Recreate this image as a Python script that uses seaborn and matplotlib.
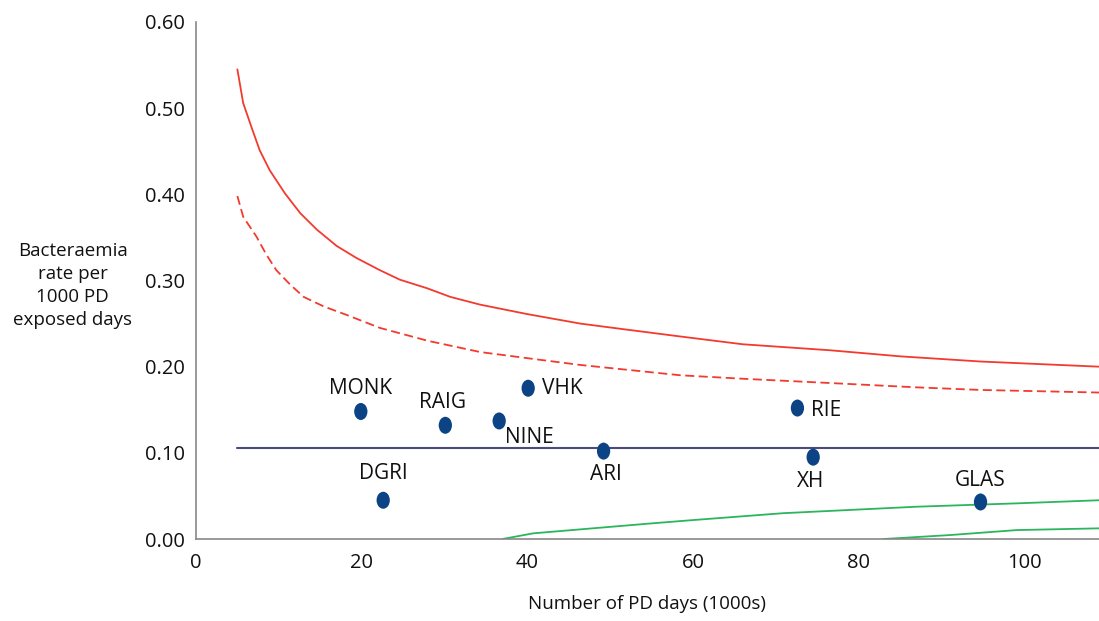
import matplotlib
matplotlib.use("Agg")
import matplotlib.pyplot as plt
import seaborn as sns
import pandas as pd
from matplotlib.path import Path
from matplotlib.transforms import Affine2D

# units (PD days in 1000s) and bacteraemia rate per 1000 PD exposed days
units = ["MONK", "DGRI", "RAIG", "NINE", "VHK", "ARI", "RIE", "XH", "GLAS"]
pd_days = [19.9, 22.6, 30.1, 36.6, 40.1, 49.2, 72.6, 74.5, 94.7]
rates = [0.148, 0.045, 0.132, 0.137, 0.175, 0.102, 0.152, 0.095, 0.043]

mean_rate = 0.106
mean_x = [5, 109]

# control limits
upper998_x = [5, 5.7, 6.7, 7.7, 8.9, 10.75, 12.6, 14.6, 17.0, 19.4, 22.2, 24.6, 27.9,
              30.7, 34.3, 40, 46.4, 52, 58.5, 66, 76.6, 85, 94.7, 109]
upper998_y = [0.545, 0.506, 0.478, 0.451, 0.428, 0.401, 0.378, 0.359, 0.340, 0.326,
              0.312, 0.301, 0.291, 0.281, 0.272, 0.261, 0.250, 0.243, 0.235, 0.226,
              0.219, 0.212, 0.206, 0.200]
upper95_x = [5, 5.7, 7.3, 8.5, 9.7, 11.4, 13.0, 15.4, 18.2, 22.2, 28, 34.3, 40.7,
             46.4, 58.5, 66, 76.6, 87, 94.7, 109]
upper95_y = [0.398, 0.374, 0.351, 0.330, 0.312, 0.295, 0.281, 0.270, 0.260, 0.245,
             0.230, 0.217, 0.209, 0.202, 0.190, 0.186, 0.181, 0.176, 0.173, 0.170]
lower95_x = [37.0, 40.7, 54.8, 60, 70.9, 87.0, 99.1, 109]
lower95_y = [0.0, 0.0066, 0.018, 0.022, 0.030, 0.0375, 0.0414, 0.045]
lower998_x = [83, 91, 99.1, 109]
lower998_y = [0.0, 0.0046, 0.0104, 0.0124]

# label placement: (dx, dy in points, ha, va)
label_pos = {
    "MONK": (0, 9, "center", "bottom"),
    "DGRI": (0, 12, "center", "bottom"),
    "RAIG": (-2, 9, "center", "bottom"),
    "NINE": (4, -4, "left", "top"),
    "VHK": (10, 0, "left", "center"),
    "ARI": (2, -9, "center", "top"),
    "RIE": (10, -2, "left", "center"),
    "XH": (-2, -10, "center", "top"),
    "GLAS": (0, 8, "center", "bottom"),
}

sns.set_theme(style="white")
plt.rcParams["font.family"] = ["Open Sans", "DejaVu Sans"]

fig = plt.figure(figsize=(10.99, 6.21), dpi=100)
ax = fig.add_axes([0.1783, 0.132, 0.8217, 0.8326])

red = "#f23a2e"
green = "#2bb55c"

sns.lineplot(x=upper998_x, y=upper998_y, ax=ax, color=red, linewidth=1.3)
sns.lineplot(x=upper95_x, y=upper95_y, ax=ax, color=red, linewidth=1.3)
ax.lines[-1].set_dashes((5, 2.5))
sns.lineplot(x=lower95_x, y=lower95_y, ax=ax, color=green, linewidth=1.3)
sns.lineplot(x=lower998_x, y=lower998_y, ax=ax, color=green, linewidth=1.3)
sns.lineplot(x=mean_x, y=[mean_rate] * len(mean_x), ax=ax, color="#4a4a85", linewidth=1.5)

ellipse = Path.unit_circle().transformed(Affine2D().scale(0.78, 1.0))
df = pd.DataFrame({"unit": units, "x": pd_days, "y": rates})
sns.scatterplot(data=df, x="x", y="y", ax=ax, marker=ellipse, s=150,
                color="#0b4384", edgecolor="none", zorder=5)

for name, xv, yv in zip(units, pd_days, rates):
    dx, dy, ha, va = label_pos[name]
    ax.annotate(name, (xv, yv), xytext=(dx, dy), textcoords="offset points",
                ha=ha, va=va, fontsize=15, color="#111111")

ax.set_xlim(0, 109)
ax.set_ylim(0, 0.6)
ax.set_xticks([0, 20, 40, 60, 80, 100])
ax.set_yticks([0, 0.1, 0.2, 0.3, 0.4, 0.5, 0.6])
ax.set_yticklabels([f"{v:.2f}" for v in [0, 0.1, 0.2, 0.3, 0.4, 0.5, 0.6]])
ax.tick_params(axis="both", labelsize=14.5, colors="#111111")
ax.tick_params(axis="y", direction="out", length=5, width=1, color="#888888", pad=3)
ax.tick_params(axis="x", direction="out", length=7, width=1, color="#888888", pad=3)

for side in ["top", "right"]:
    ax.spines[side].set_visible(False)
for side in ["left", "bottom"]:
    ax.spines[side].set_color("#888888")
    ax.spines[side].set_linewidth(1.2)

ax.set_xlabel("Number of PD days (1000s)", fontsize=13.5, color="#111111", labelpad=16)
ax.set_ylabel("")
fig.text(0.066, 0.54, "Bacteraemia\nrate per\n1000 PD\nexposed days", ha="center",
         va="center", fontsize=13.5, color="#111111", linespacing=1.35)

fig.savefig("out.png", dpi=100)
